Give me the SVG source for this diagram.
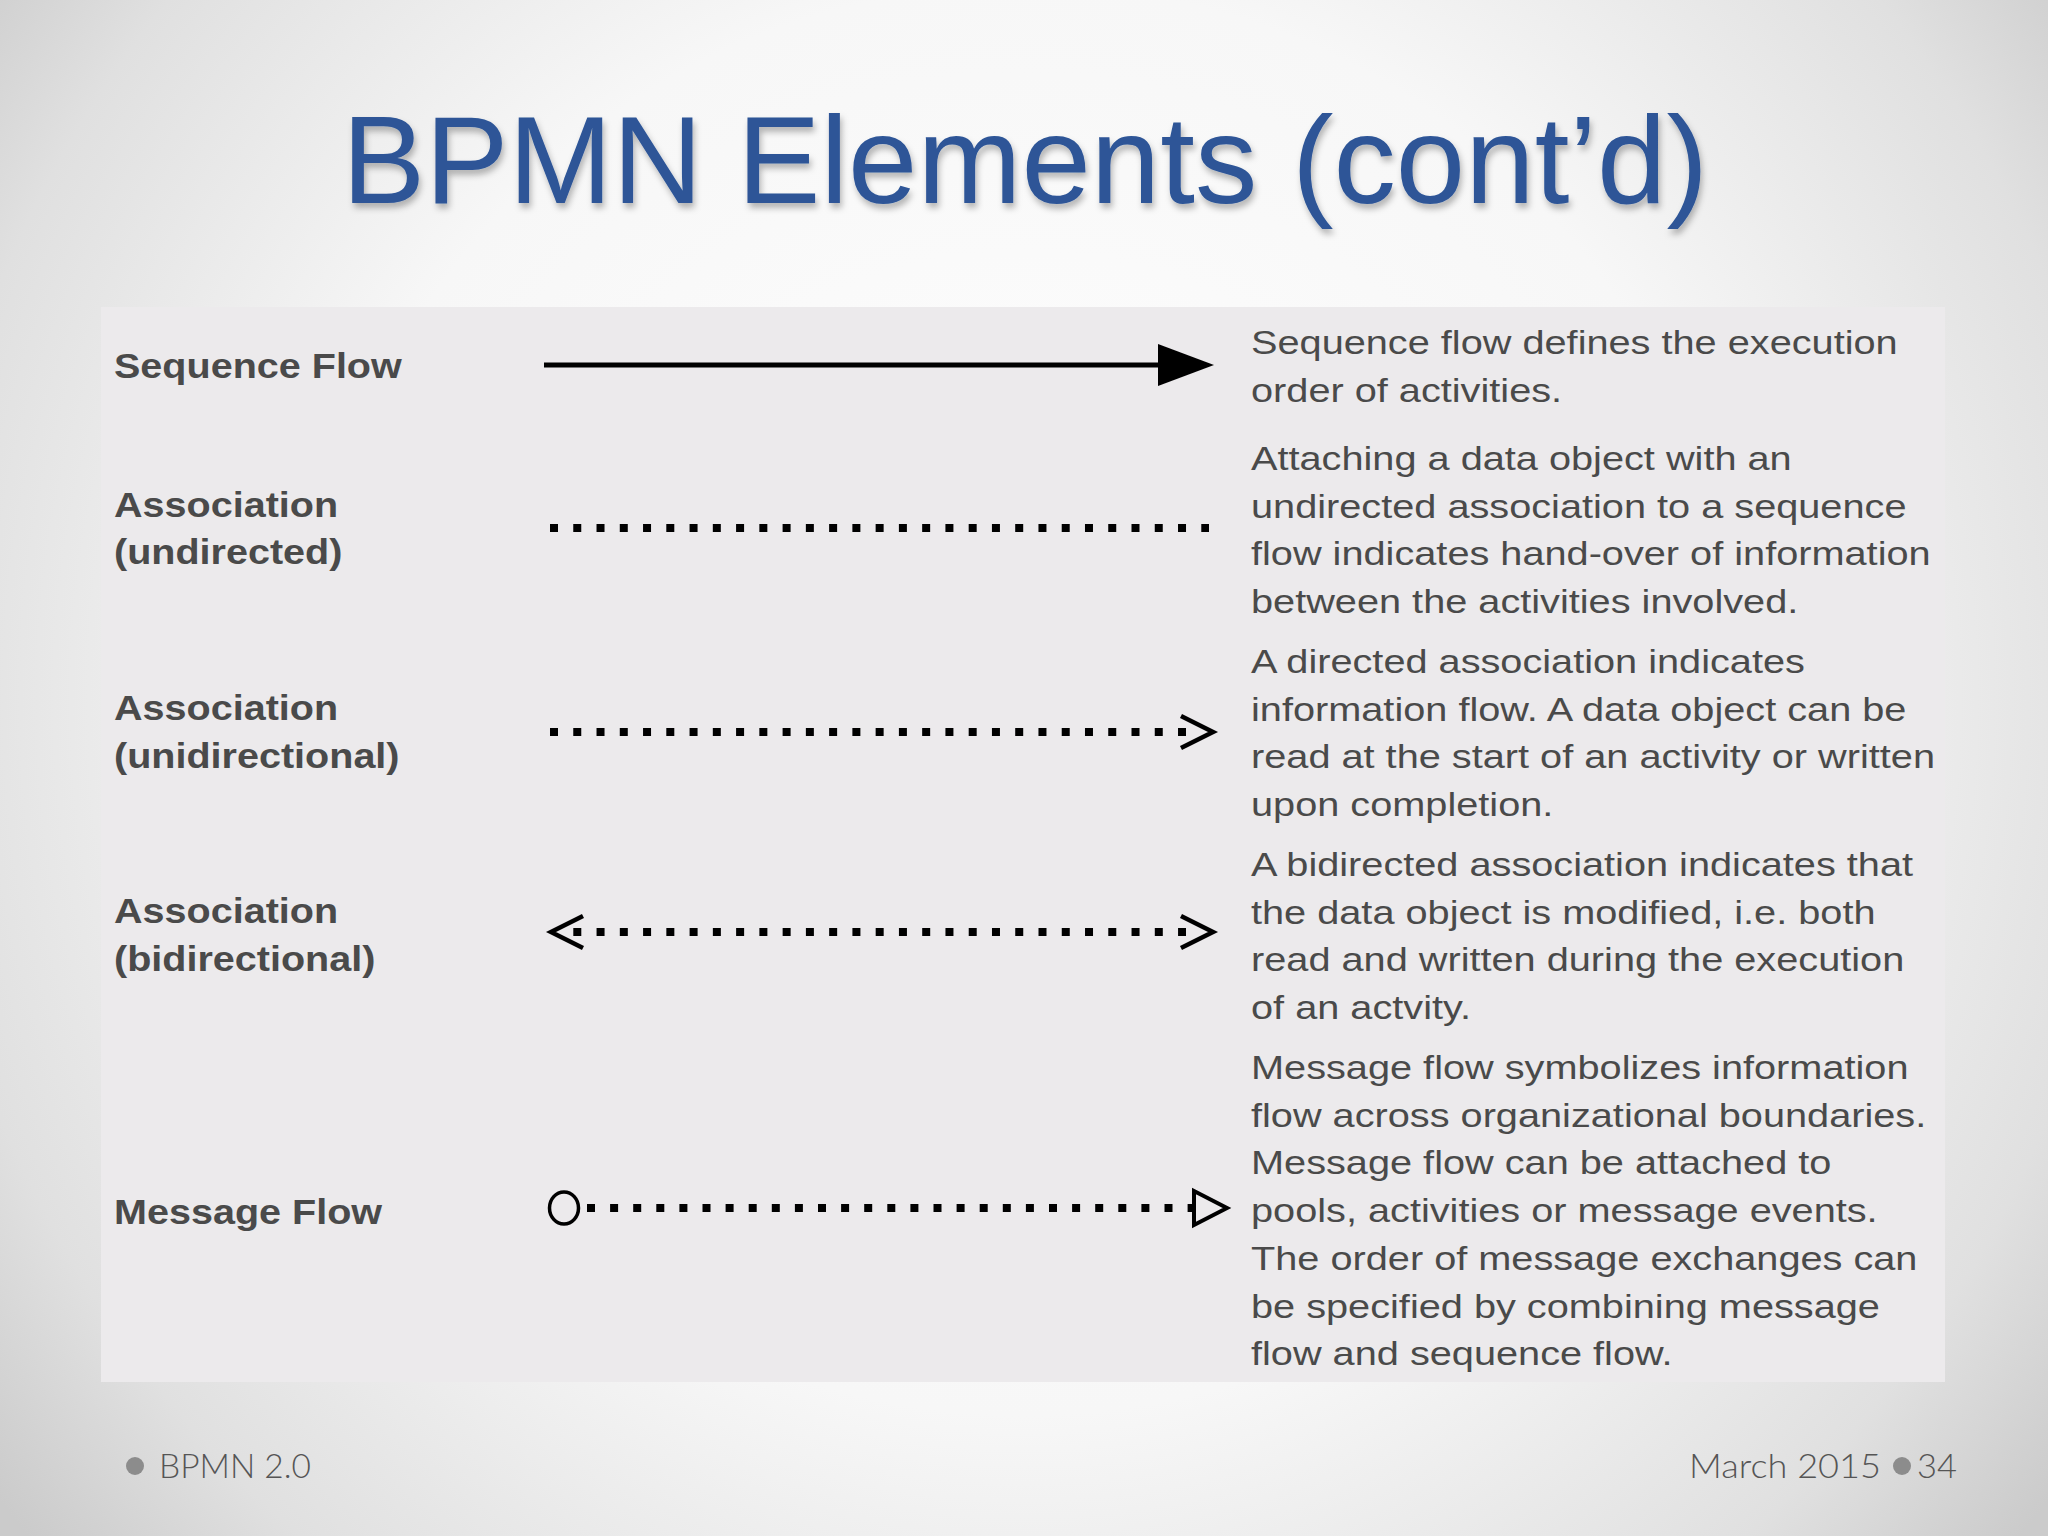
<svg xmlns="http://www.w3.org/2000/svg" xmlns:xlink="http://www.w3.org/1999/xlink" width="2048" height="1536" viewBox="0 0 2048 1536">
<defs>
<radialGradient id="bg" cx="1024" cy="700" r="1300" gradientUnits="userSpaceOnUse">
<stop offset="0" stop-color="#ffffff"/>
<stop offset="0.55" stop-color="#f7f7f7"/>
<stop offset="0.85" stop-color="#e0e0e0"/>
<stop offset="1" stop-color="#cbcbcb"/>
</radialGradient>
<filter id="shadow" x="-5%" y="-20%" width="110%" height="150%">
<feDropShadow dx="2" dy="5" stdDeviation="3" flood-color="#000" flood-opacity="0.28"/>
</filter>
<path id="open-arrow" d="M-32,-16 L0,0 L-32,16" fill="none" stroke="#000" stroke-width="4.5" stroke-linejoin="miter"/>
<path id="open-triangle" d="M-33,-17 L0,0 L-33,17 Z" fill="#eceaec" stroke="#000" stroke-width="4" stroke-linejoin="miter"/>
</defs>
<style>
.title{font-family:"Liberation Sans",Arial,sans-serif;font-size:125px;fill:#2d5597}
.label{font-family:"Liberation Sans",Arial,sans-serif;font-weight:bold;font-size:35px;fill:#4a4a4a}
.desc{font-family:"Liberation Sans",Arial,sans-serif;font-size:34px;fill:#4a4a4a}
.foot{font-family:"Lato","Liberation Sans",sans-serif;font-weight:300;font-size:33px;fill:#555555}
.dots{stroke:#000;stroke-width:8;fill:none}
</style>
<rect x="0" y="0" width="2048" height="1536" fill="url(#bg)"/>
<g id="title">
<text class="title" x="1025" y="203" text-anchor="middle" textLength="1366" lengthAdjust="spacingAndGlyphs" filter="url(#shadow)">BPMN Elements (cont’d)</text>
</g>
<g id="table">
<rect x="101" y="307" width="1844" height="1075" fill="#eceaec"/>
</g>
<g id="labels">
<g id="label-sequence" transform="translate(114,0) scale(1.13,1)"><text class="label" x="0" y="378">Sequence Flow</text></g>
<g id="label-undirected" transform="translate(114,0) scale(1.13,1)"><text class="label" x="0" y="517">Association</text><text class="label" x="0" y="564">(undirected)</text></g>
<g id="label-unidirectional" transform="translate(114,0) scale(1.13,1)"><text class="label" x="0" y="720">Association</text><text class="label" x="0" y="768">(unidirectional)</text></g>
<g id="label-bidirectional" transform="translate(114,0) scale(1.13,1)"><text class="label" x="0" y="923">Association</text><text class="label" x="0" y="971">(bidirectional)</text></g>
<g id="label-message" transform="translate(114,0) scale(1.13,1)"><text class="label" x="0" y="1224">Message Flow</text></g>
</g>
<g id="connectors">
<g id="conn-sequence">
<line x1="544" y1="365" x2="1162" y2="365" stroke="#000" stroke-width="5"/>
<polygon points="1158,344 1214,365 1158,386" fill="#000"/>
</g>
<g id="conn-undirected">
<line class="dots" x1="550" y1="528" x2="1209" y2="528" stroke-dasharray="8 15.26"/>
</g>
<g id="conn-unidirectional">
<line class="dots" x1="550" y1="732" x2="1186" y2="732" stroke-dasharray="8 15.26"/>
<use xlink:href="#open-arrow" x="1213" y="732"/>
</g>
<g id="conn-bidirectional">
<line class="dots" x1="573.3" y1="932" x2="1186" y2="932" stroke-dasharray="8 15.26"/>
<use xlink:href="#open-arrow" x="1213" y="932"/>
<use xlink:href="#open-arrow" transform="translate(551,932) rotate(180)"/>
</g>
<g id="conn-message">
<ellipse cx="564" cy="1208" rx="14.5" ry="16" fill="#eceaec" stroke="#000" stroke-width="3.5"/>
<line class="dots" x1="587" y1="1208" x2="1196" y2="1208" stroke-dasharray="8 15.1"/>
<use xlink:href="#open-triangle" x="1227" y="1208"/>
</g>
</g>
<g id="descriptions">
<g id="desc-sequence" transform="translate(1251,0) scale(1.168,1)">
<text class="desc" x="0" y="354">Sequence flow defines the execution</text>
<text class="desc" x="0" y="402">order of activities.</text>
</g>
<g id="desc-undirected" transform="translate(1251,0) scale(1.168,1)">
<text class="desc" x="0" y="470">Attaching a data object with an</text>
<text class="desc" x="0" y="518">undirected association to a sequence</text>
<text class="desc" x="0" y="565">flow indicates hand-over of information</text>
<text class="desc" x="0" y="613">between the activities involved.</text>
</g>
<g id="desc-unidirectional" transform="translate(1251,0) scale(1.168,1)">
<text class="desc" x="0" y="673">A directed association indicates</text>
<text class="desc" x="0" y="721">information flow. A data object can be</text>
<text class="desc" x="0" y="768">read at the start of an activity or written</text>
<text class="desc" x="0" y="816">upon completion.</text>
</g>
<g id="desc-bidirectional" transform="translate(1251,0) scale(1.168,1)">
<text class="desc" x="0" y="876">A bidirected association indicates that</text>
<text class="desc" x="0" y="924">the data object is modified, i.e. both</text>
<text class="desc" x="0" y="971">read and written during the execution</text>
<text class="desc" x="0" y="1019">of an actvity.</text>
</g>
<g id="desc-message" transform="translate(1251,0) scale(1.168,1)">
<text class="desc" x="0" y="1079">Message flow symbolizes information</text>
<text class="desc" x="0" y="1127">flow across organizational boundaries.</text>
<text class="desc" x="0" y="1174">Message flow can be attached to</text>
<text class="desc" x="0" y="1222">pools, activities or message events.</text>
<text class="desc" x="0" y="1270">The order of message exchanges can</text>
<text class="desc" x="0" y="1318">be specified by combining message</text>
<text class="desc" x="0" y="1365">flow and sequence flow.</text>
</g>
</g>
<g id="footer">
<circle cx="135" cy="1466" r="9" fill="#8c8c8c"/>
<text class="foot" x="159" y="1478" textLength="152" lengthAdjust="spacingAndGlyphs">BPMN 2.0</text>
<text class="foot" x="1689" y="1478" textLength="192" lengthAdjust="spacingAndGlyphs">March 2015</text>
<circle cx="1902" cy="1466" r="9" fill="#8c8c8c"/>
<text class="foot" x="1917" y="1478" textLength="40" lengthAdjust="spacingAndGlyphs">34</text>
</g>
</svg>
